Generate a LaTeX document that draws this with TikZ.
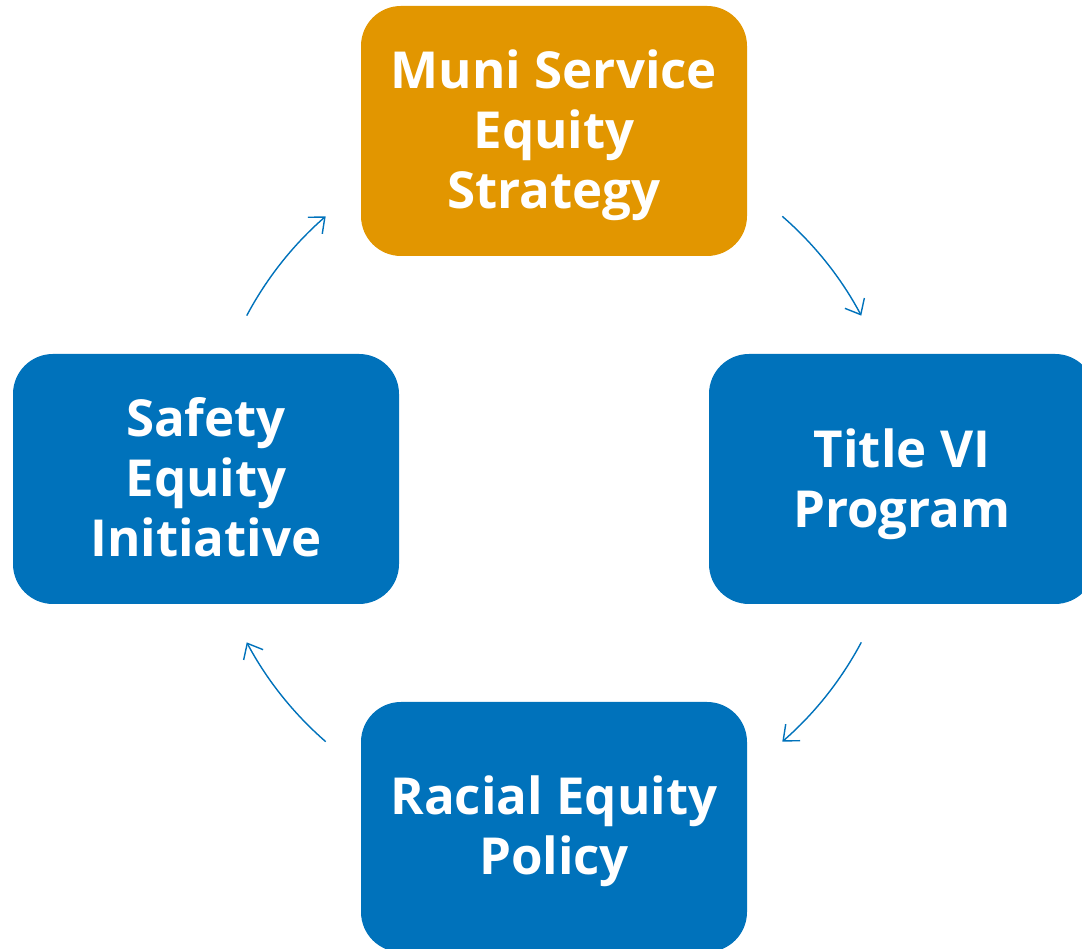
\documentclass[tikz,border=0pt]{standalone}
\usepackage{fontspec}
\setmainfont{Open Sans}
\usetikzlibrary{arrows.meta}
\definecolor{muniorange}{RGB}{226,150,0}
\definecolor{muniblue}{RGB}{0,114,187}
\begin{document}
\begin{tikzpicture}[x=1pt,y=1pt,
  card/.style={rounded corners=40pt, minimum width=386pt, minimum height=250pt,
    inner sep=0pt},
  cardtext/.style={inner sep=0pt, text=white, align=center,
    font=\fontsize{51}{60}\selectfont\bfseries},
  cyc/.style={draw=muniblue, line width=1.4pt, -{Straight Barb[length=13pt,width=22pt,line width=1.4pt]}}]
\useasboundingbox (0,0) rectangle (1082,949);
\clip (0,0) rectangle (1082,949);
\node[card, fill=muniorange] (muni) at (554,818) {};
\node[card, fill=muniblue] (title) at (902,470) {};
\node[card, fill=muniblue] (racial) at (554,122) {};
\node[card, fill=muniblue] (safety) at (206,470) {};
\node[cardtext] (munit) at ([yshift=-4pt]muni.center) {Muni Service\\Equity\\Strategy};
\node[cardtext] (titlet) at ([yshift=-5pt]title.center) {Title VI\\Program};
\node[cardtext] (racialt) at ([yshift=-4pt]racial.center) {Racial Equity\\Policy};
\node[cardtext] (safetyt) at ([yshift=2pt]safety.center) {Safety\\Equity\\Initiative};
\coordinate (ctr) at (554,470);
\begin{scope}[shift={(ctr)}]
  \coordinate (s1) at (152:348);
  \coordinate (s2) at (49:348);
  \coordinate (s3) at (-28:348);
  \coordinate (s4) at (-131:348);
\end{scope}
\draw[cyc] (s1) arc[start angle=152, end angle=131, radius=348];
\draw[cyc] (s2) arc[start angle=49, end angle=28, radius=348];
\draw[cyc] (s3) arc[start angle=-28, end angle=-49, radius=348];
\draw[cyc] (s4) arc[start angle=-131, end angle=-152, radius=348];
\end{tikzpicture}
\end{document}
